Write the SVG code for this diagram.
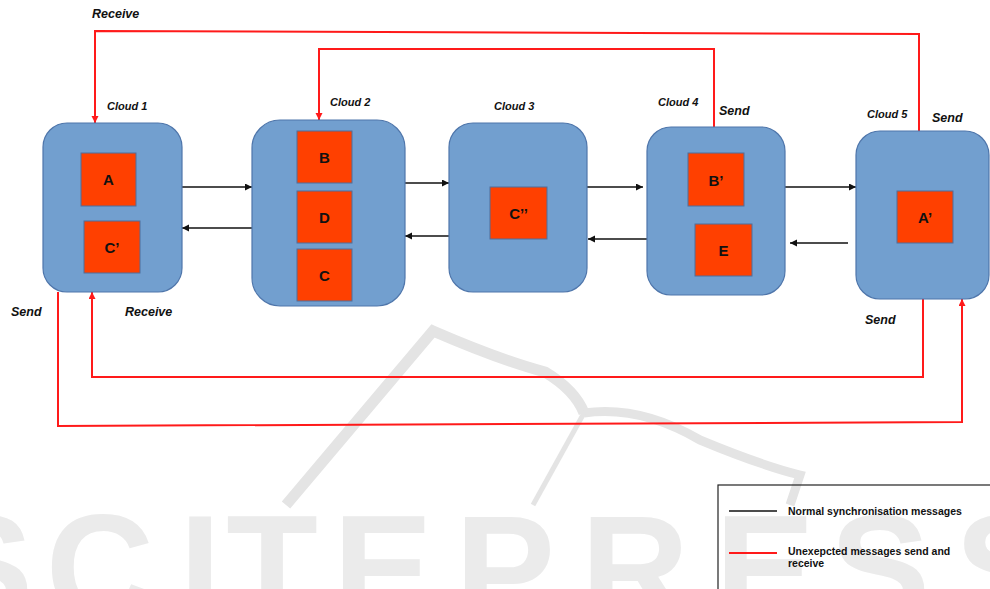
<svg xmlns="http://www.w3.org/2000/svg" width="990" height="589" viewBox="0 0 990 589">
<defs>
<style>
.cloud{fill:#729fcf;stroke:#4f76ab;stroke-width:1.2}
.item{fill:#ff4000;stroke:#4f6f9c;stroke-width:1}
.itxt{font-family:"Liberation Sans",Arial,sans-serif;font-weight:bold;font-size:15px;fill:#111;text-anchor:middle}
.lbl{font-family:"Liberation Sans",Arial,sans-serif;font-weight:bold;font-style:italic;font-size:11px;fill:#111}
.lbl2{font-family:"Liberation Sans",Arial,sans-serif;font-weight:bold;font-style:italic;font-size:12.5px;fill:#111}
.red{fill:none;stroke:#ff1a1a;stroke-width:2}
.blk{fill:none;stroke:#111;stroke-width:1.3}
.leg{font-family:"Liberation Sans",Arial,sans-serif;font-weight:bold;font-size:10.5px;fill:#111}
.wm{fill:#ebebeb}
.wml{fill:none;stroke:#e4e4e4;stroke-linecap:butt}
</style>
<marker id="ah" markerUnits="userSpaceOnUse" markerWidth="8" markerHeight="8" refX="7" refY="3.5" orient="auto"><path d="M0,0 L7,3.5 L0,7 z" fill="#111"/></marker>
<marker id="rh" markerUnits="userSpaceOnUse" markerWidth="8" markerHeight="8" refX="7" refY="3.5" orient="auto"><path d="M0,0 L7,3.5 L0,7 z" fill="#ff1a1a"/></marker>
</defs>
<rect width="990" height="589" fill="#fff"/>

<g id="watermark">
<path class="wml" stroke-width="11" d="M286,505 L433,331 Q500,360 545,372 Q575,390 584,413"/>
<path class="wml" stroke-width="9" d="M584,413 Q640,405 700,440 Q760,465 800,475 L790,505"/>
<path class="wml" stroke-width="5" d="M584,413 L533,505"/>
<text class="wm" font-family="Liberation Sans,Arial,sans-serif" font-weight="bold" font-size="150" text-anchor="middle" y="620" x="-17 100 200 272 383 505 635 765 880 1005">SCITEPRESS</text>
</g>

<g id="connectors">
<path class="blk" marker-end="url(#ah)" d="M182,187 L252,187"/>
<path class="blk" marker-end="url(#ah)" d="M252,228 L182,228"/>
<path class="blk" marker-end="url(#ah)" d="M405,183 L449,183"/>
<path class="blk" marker-end="url(#ah)" d="M453,236 L405,236"/>
<path class="blk" marker-end="url(#ah)" d="M587,187 L643,187"/>
<path class="blk" marker-end="url(#ah)" d="M647,239 L588,239"/>
<path class="blk" marker-end="url(#ah)" d="M785,187 L856,187"/>
<path class="blk" marker-end="url(#ah)" d="M848,243 L790,243"/>
<path class="red" marker-end="url(#rh)" d="M919,131 L919,34 L95,31 L95,123"/>
<path class="red" marker-end="url(#rh)" d="M714,127 L714,49 L319,49 L319,120"/>
<path class="red" marker-end="url(#rh)" d="M923,299 L923,377 L92,377 L92,292"/>
<path class="red" marker-end="url(#rh)" d="M58,292 L58,426 L962,422 L962,299"/>
</g>

<g id="cloud1">
<rect class="cloud" x="43" y="123" width="139" height="169" rx="24"/>
<rect class="item" x="81" y="153" width="55" height="53"/>
<text class="itxt" x="108.5" y="185">A</text>
<rect class="item" x="84" y="221" width="56" height="52"/>
<text class="itxt" x="112" y="253">C’</text>
<text class="lbl" x="107" y="110">Cloud 1</text>
</g>

<g id="cloud2">
<rect class="cloud" x="252" y="120" width="153" height="186" rx="28"/>
<rect class="item" x="297" y="131" width="55" height="52"/>
<text class="itxt" x="324.5" y="163">B</text>
<rect class="item" x="297" y="191" width="55" height="52"/>
<text class="itxt" x="324.5" y="223">D</text>
<rect class="item" x="297" y="249" width="55" height="52"/>
<text class="itxt" x="324.5" y="281">C</text>
<text class="lbl" x="330" y="106">Cloud 2</text>
</g>

<g id="cloud3">
<rect class="cloud" x="449" y="123" width="138" height="169" rx="24"/>
<rect class="item" x="490" y="187" width="57" height="52"/>
<text class="itxt" x="518.5" y="219">C’’</text>
<text class="lbl" x="494" y="110">Cloud 3</text>
</g>

<g id="cloud4">
<rect class="cloud" x="647" y="127" width="138" height="168" rx="24"/>
<rect class="item" x="688" y="153" width="56" height="53"/>
<text class="itxt" x="716" y="186">B’</text>
<rect class="item" x="695" y="224" width="57" height="52"/>
<text class="itxt" x="723.5" y="256">E</text>
<text class="lbl" x="658" y="106">Cloud 4</text>
</g>

<g id="cloud5">
<rect class="cloud" x="856" y="131" width="133" height="168" rx="24"/>
<rect class="item" x="897" y="191" width="56" height="52"/>
<text class="itxt" x="925" y="223">A’</text>
<text class="lbl" x="867" y="118">Cloud 5</text>
</g>

<g id="labels">
<text class="lbl2" x="92" y="18">Receive</text>
<text class="lbl2" x="719" y="115">Send</text>
<text class="lbl2" x="932" y="122">Send</text>
<text class="lbl2" x="11" y="316">Send</text>
<text class="lbl2" x="125" y="316">Receive</text>
<text class="lbl2" x="865" y="324">Send</text>
</g>

<g id="legend">
<rect x="718" y="485" width="290" height="120" fill="none" stroke="#222" stroke-width="1.2"/>
<line x1="729" y1="511" x2="777" y2="511" stroke="#111" stroke-width="1.3"/>
<text class="leg" x="788" y="515">Normal synchronisation messages</text>
<line x1="729" y1="553" x2="777" y2="553" stroke="#ff1a1a" stroke-width="2"/>
<text class="leg" x="788" y="555">Unexepcted messages send and</text>
<text class="leg" x="788" y="567">receive</text>
</g>
</svg>
